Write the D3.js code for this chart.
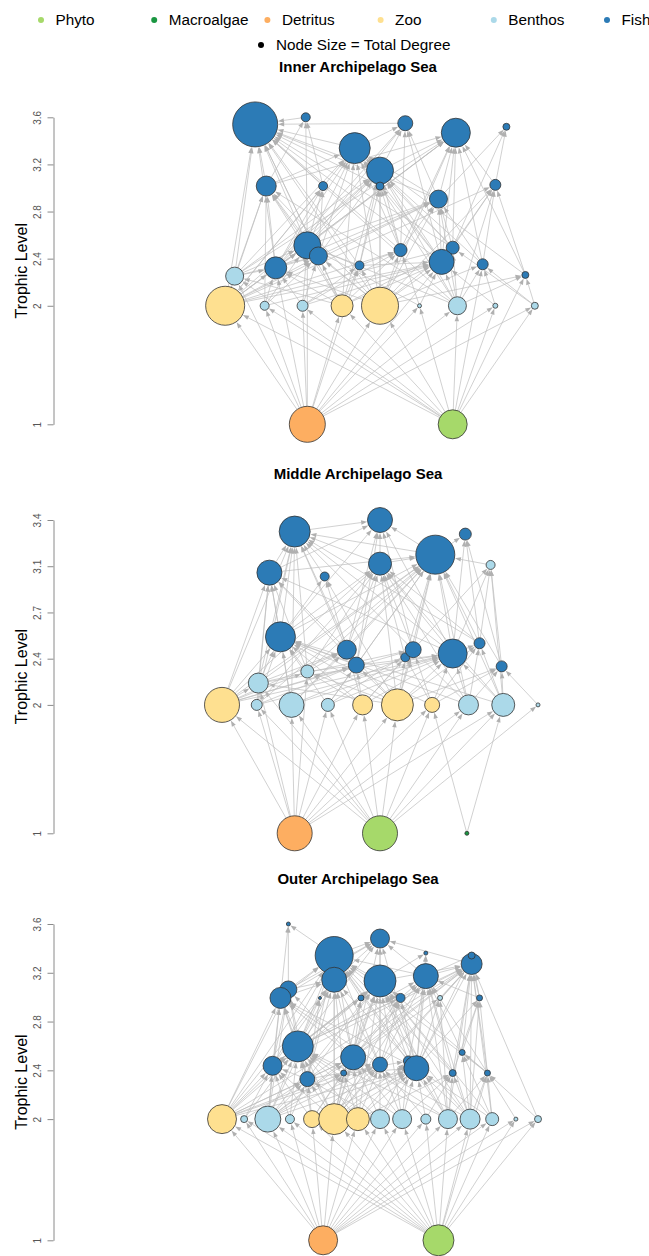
<!DOCTYPE html>
<html>
<head>
<meta charset="utf-8">
<script src="https://cdn.jsdelivr.net/npm/d3@7"></script>
<style>
  body { margin: 0; background: #fff; }
  svg { display: block; font-family: "Liberation Sans", Arial, sans-serif; }
</style>
</head>
<body>
<svg id="chart" width="649" height="1256"></svg>
<script>
// food web plots, three sub-areas of the Archipelago Sea

const groupCodes = ["P", "M", "D", "Z", "B", "F"];
const groupNames = ["Phyto", "Macroalgae", "Detritus", "Zoo", "Benthos", "Fish"];
const groupColors = ["#a6d96a", "#1a9641", "#fdae61", "#fee090", "#abd9e9", "#2c7bb6"];
const panelTitles = ["Inner Archipelago Sea", "Middle Archipelago Sea", "Outer Archipelago Sea"];

// --- Inner ---
const innerGroup = ["D","P","Z","B","B","Z","Z","B","B","B","B","B",
  "F","F","F","F","F","F","F","F","F","F","F","F","F","F","F","F","F","F","F","F","F"];
const innerX = [-0.46, 0.46, -0.98, -0.73, -0.49, -0.24, 0, 0.25, 0.49, 0.73, 0.98, -0.92,
  -0.79, -0.47, 0.16, 0.48, 0.80, -0.16, 0, 0, -0.72, -0.36, 0.73, 0.37, -0.46, -0.39, 0.13,
  0.46, 0.39, 0.65, -0.66, -0.13, 0.92];
const innerTL = [1, 1, 2, 2, 2, 2, 2, 2, 2, 2, 2, 2.25,
  3.53, 3.59, 3.54, 3.46, 3.51, 3.33, 3.14, 3.01, 3.01, 3.01, 3.02, 2.90, 2.51, 2.42, 2.47,
  2.49, 2.37, 2.35, 2.32, 2.34, 2.26];
const innerDegree = [36, 29, 39, 9, 11, 22, 37, 4, 18, 5, 7, 18,
  45, 9, 15, 29, 7, 31, 27, 8, 20, 9, 11, 18, 27, 18, 13, 13, 25, 11, 22, 9, 7];
const innerPrey = [[], [], [0,1], [0,1], [0,1], [0,1], [0,1], [0,1], [0,1], [0,1], [0,1], [0,1,2,5],
  [17,18,20,21,24,25,30,11,2,14,13,19,23,26,28,31,5,6,8,27],
  [20,24,21],
  [18,17,23,26,24,28,30],
  [18,23,22,28,27,29,26,24,6,32,20,2,11,30],
  [22,23,27],
  [24,25,26,28,30,20,2,6,23,11,29,5,8,27,32],
  [24,25,26,28,30,2,6,31,5,27,8,11],
  [6,26,31,28],
  [2,11,30,24,3,25,6,5,8],
  [24,25,2,30],
  [8,29,32,27,6,28,2],
  [6,8,28,26,27,29,24,25,2,30],
  [2,3,4,5,6,8,11,0,7,30,31],
  [2,5,6,3,4,11,30],
  [2,6,5,4,7,31],
  [6,8,2,5,28,10],
  [2,5,6,7,8,9,0,4,3,31],
  [6,8,9,10,1],
  [2,3,4,0,11,5,6],
  [0,4,6,5],
  [1,8,10,6]];

// --- Middle ---
const middleGroup = ["D","P","M","Z","B","B","B","Z","Z","Z","B","B","B","B","B","B",
  "F","F","F","F","F","F","F","F","F","F","F","F","F","F","F"];
const middleX = [-0.54, 0, 0.55, -1.0, -0.78, -0.56, -0.33, -0.11, 0.11, 0.33, 0.56, 0.78, 1.0,
  -0.77, -0.46, 0.70, -0.54, 0, 0.54, 0.35, -0.70, -0.35, 0, -0.63, -0.21, -0.15, 0.16, 0.21,
  0.46, 0.63, 0.77];
const middleTL = [1, 1, 1, 2, 2, 2, 2, 2, 2, 2, 2, 2, 2, 2.17, 2.26, 3.09,
  3.35, 3.44, 3.33, 3.17, 3.03, 3.00, 3.10, 2.53, 2.43, 2.31, 2.37, 2.43, 2.40, 2.48, 2.30];
const middleDegree = [35, 35, 4, 35, 11, 25, 13, 20, 32, 15, 20, 23, 4, 20, 13, 9,
  31, 25, 12, 39, 25, 9, 23, 30, 19, 16, 9, 16, 29, 11, 11];
const middlePrey = [[], [], [], [0,1], [0,1], [0,1], [0,1], [0,1], [0,1], [0,1,2], [0,1], [0,1,2], [1],
  [0,1,3,8],
  [0,3,7,8],
  [28,29,30,11,27],
  [20,23,21,24,25,28,3,13,14,5,22,19,4,10,29],
  [16,22,23,24,28,20,19,27,25],
  [19,28,29,30],
  [23,24,25,27,26,28,29,30,15,3,8,10,11,13,20,22,14,5,4,6],
  [23,13,3,4,5,24,25,14,28],
  [23,24,8],
  [23,24,28,27,26,14,8,3,29,25,10,11,4],
  [3,4,5,6,8,13,14,7,9,10,25,11],
  [3,5,7,8,14,13,25],
  [3,6,7,8,4],
  [8,7,9,5],
  [3,8,9,7,6,13],
  [3,5,7,8,9,10,11,13,14,6,4],
  [8,9,10,11,28],
  [10,11,12,8,9]];

// --- Outer ---
const outerGroup = ["D","P","Z","B","B","B","Z","Z","Z","B","B","B","B","B","B","B","B","B",
  "F","F","F","F","F","F","F","F","F","F","F","F","F","F","F","F","F","F","F","F","F","F","F","F","F","F"];
const outerX = [-0.36, 0.37, -1, -0.86, -0.71, -0.57, -0.43, -0.29, -0.14, 0, 0.14, 0.29, 0.43,
  0.57, 0.71, 0.86, 1, 0.38, -0.58, 0, -0.29, 0.29, 0.58, 0.58, -0.29, 0, 0.29, -0.58, -0.63,
  -0.38, -0.12, 0.13, 0.63, -0.52, -0.17, -0.68, 0, 0.18, 0.23, 0.52, -0.46, -0.23, 0.46, 0.68];
const outerTL = [1, 1, 2, 2, 2, 2, 2, 2, 2, 2, 2, 2, 2, 2, 2, 2, 2, 3.0,
  3.61, 3.49, 3.35, 3.37, 3.28, 3.35, 3.15, 3.14, 3.18, 3.07, 3.0, 3.0, 3.0, 3.0, 3.0,
  2.6, 2.51, 2.44, 2.45, 2.48, 2.42, 2.55, 2.33, 2.38, 2.38, 2.38];
const outerDegree = [29, 31, 29, 7, 26, 9, 17, 31, 23, 19, 19, 10, 19, 20, 13, 4, 7, 5,
  4, 19, 38, 4, 21, 7, 25, 32, 25, 17, 21, 3, 6, 9, 6, 31, 25, 19, 15, 10, 25, 6, 15, 6, 7, 6];
const outerPrey = [[], [],
  [0,1], [0,1], [0,1], [0,1], [0,1], [0,1], [0,1], [0,1], [0,1], [0,1], [0,1], [0,1], [0,1], [0,1], [0,1],
  [34,38,12],
  [20,27,28],
  [20,25,24,26,22,33,34,38,36,27,28],
  [24,25,27,28,33,34,35,36,38,40,2,7,29,30,31,26,12,13,42,43],
  [26,25,38],
  [33,34,36,38,39,42,43,12,13,14,17,26,25,32,2,4,7,35,40,16],
  [26,32,38],
  [33,34,35,36,38,40,41,2,4,7,27,28],
  [33,34,35,36,37,38,40,41,42,2,4,7,8,10,30,31,12,13,14,43],
  [33,34,36,37,38,39,42,43,7,12,13,31,32],
  [33,35,40,28,2,4,34],
  [33,34,35,40,2,4,36,38,7],
  [33,40],
  [33,34,35,7],
  [33,34,36,38,7],
  [38,39,42,43,13],
  [2,3,4,5,6,7,8,9,10,40,41,35,12],
  [2,4,6,7,8,9,10,12,13,40,41],
  [2,3,4,5,6,7,40],
  [2,7,8,9,10,11,4,6],
  [7,8,9,10,40],
  [2,6,7,8,9,10,11,12,13,14,4,41],
  [13,14,43],
  [2,3,4,5,6,7,9],
  [2,4,6,7,8],
  [10,11,12,13,8],
  [12,13,14,15,16,1]];

const panels = [
  { group: innerGroup, x: innerX, tl: innerTL, deg: innerDegree, prey: innerPrey },
  { group: middleGroup, x: middleX, tl: middleTL, deg: middleDegree, prey: middlePrey },
  { group: outerGroup, x: outerX, tl: outerTL, deg: outerDegree, prey: outerPrey }
];

// panel boxes (pixel layout)
const boxes = [
  { top: 117.3, bottom: 424.3, titleY: 67 },
  { top: 520, bottom: 833.3, titleY: 474 },
  { top: 924, bottom: 1240.3, titleY: 879 }
];

const svg = d3.select("#chart");
const color = d3.scaleOrdinal().domain(groupCodes).range(groupColors);
const x = d3.scaleLinear().domain([-1, 1]).range([222, 538]);
const radius = d3.scaleLinear().domain([0, 40]).range([0, 20]);
const axisX = 53.5;

// legend
const legend = svg.append("g");
groupNames.forEach((name, i) => {
  const lx = 41 + i * 113.2;
  legend.append("circle").attr("cx", lx).attr("cy", 20).attr("r", 3)
    .attr("fill", groupColors[i]);
  legend.append("text").attr("x", lx + 14.5).attr("y", 20).attr("dy", "0.35em")
    .attr("font-size", 15.3).attr("fill", "#000").text(name);
});
legend.append("circle").attr("cx", 261).attr("cy", 45).attr("r", 3).attr("fill", "#000");
legend.append("text").attr("x", 276).attr("y", 45).attr("dy", "0.35em")
  .attr("font-size", 15.3).text("Node Size = Total Degree");

panels.forEach((p, pi) => {
  const box = boxes[pi];
  const maxTL = d3.max(p.tl);
  const y = d3.scaleLinear().domain([1, maxTL]).range([box.bottom, box.top]);
  const g = svg.append("g");

  // title
  g.append("text").attr("x", 358).attr("y", box.titleY).attr("dy", "0.35em")
    .attr("text-anchor", "middle").attr("font-size", 15).attr("font-weight", "bold")
    .text(panelTitles[pi]);

  // axis: 1, then five evenly spaced ticks from 2 to the max
  const tickVals = [1].concat(d3.range(5).map(i => 2 + i * (maxTL - 2) / 4));
  const axis = d3.axisLeft(y).tickValues(tickVals).tickSize(6).tickSizeOuter(0)
    .tickFormat(v => String(Math.round(v * 10) / 10));
  const ax = g.append("g").attr("transform", `translate(${axisX},0)`).call(axis);
  ax.select(".domain").attr("stroke", "#8a8a8a");
  ax.selectAll(".tick line").attr("stroke", "#8a8a8a");
  ax.selectAll(".tick text")
    .attr("transform", "rotate(-90)")
    .attr("x", 0).attr("y", -15.8).attr("dy", null)
    .attr("dominant-baseline", "central")
    .attr("text-anchor", "middle")
    .attr("font-size", 10).attr("fill", "#555")
    .attr("font-family", "Liberation Sans, Arial, sans-serif");

  g.append("text")
    .attr("transform", `translate(21,${(box.top + box.bottom) / 2}) rotate(-90)`)
    .attr("text-anchor", "middle").attr("dominant-baseline", "central")
    .attr("font-size", 16).text("Trophic Level");

  const nodes = p.group.map((code, i) => ({
    code, cx: x(p.x[i]), cy: y(p.tl[i]), r: radius(p.deg[i])
  }));

  const links = [];
  p.prey.forEach((list, j) => list.forEach(i => links.push({ s: nodes[i], t: nodes[j] })));

  const edgeG = g.append("g");
  links.forEach(l => {
    const dx = l.t.cx - l.s.cx, dy = l.t.cy - l.s.cy;
    const len = Math.sqrt(dx * dx + dy * dy);
    if (len < 1) return;
    const ux = dx / len, uy = dy / len;
    const x0 = l.s.cx + ux * l.s.r, y0 = l.s.cy + uy * l.s.r;
    const tipX = l.t.cx - ux * (l.t.r + 0.5), tipY = l.t.cy - uy * (l.t.r + 0.5);
    const bx = tipX - ux * 6, by = tipY - uy * 6;
    edgeG.append("line")
      .attr("x1", x0).attr("y1", y0).attr("x2", bx).attr("y2", by)
      .attr("stroke", "#bdbdbd").attr("stroke-width", 0.7);
    edgeG.append("path")
      .attr("d", `M${tipX},${tipY}L${bx - uy * 2.2},${by + ux * 2.2}L${bx + uy * 2.2},${by - ux * 2.2}Z`)
      .attr("fill", "#b0b0b0");
  });

  g.append("g").selectAll("circle").data(nodes).join("circle")
    .attr("cx", d => d.cx).attr("cy", d => d.cy).attr("r", d => d.r)
    .attr("fill", d => color(d.code))
    .attr("stroke", "#333").attr("stroke-width", 0.8);
});
</script>
</body>
</html>
